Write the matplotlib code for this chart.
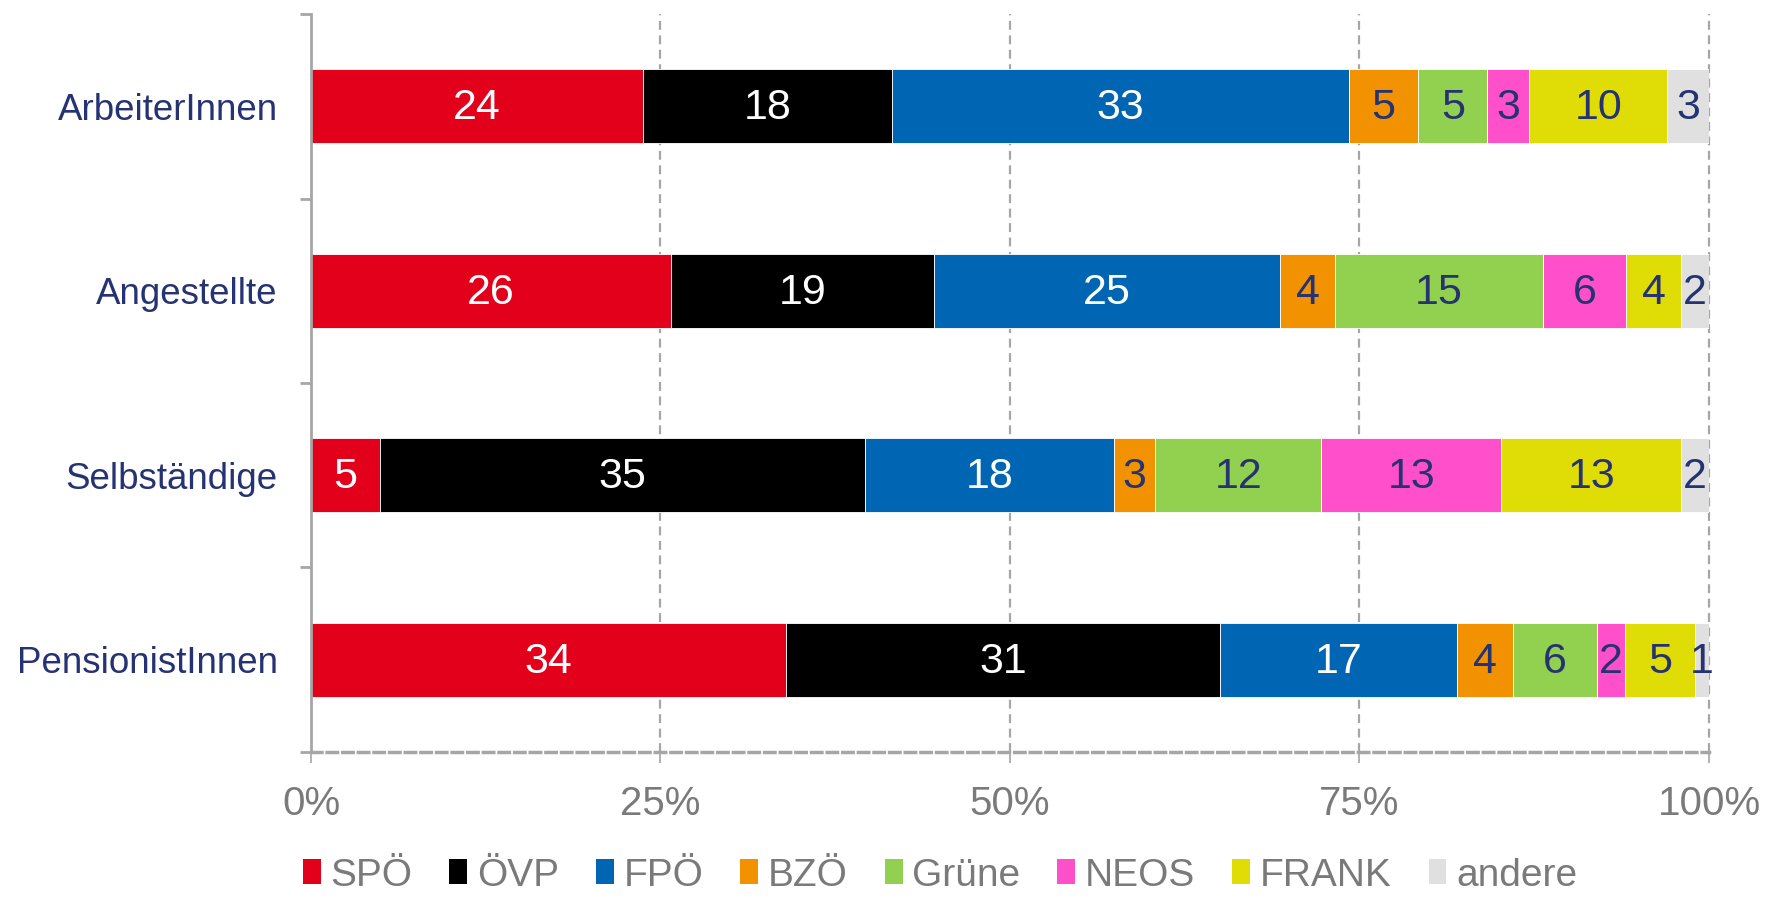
import matplotlib
matplotlib.use("Agg")
import matplotlib.pyplot as plt
from matplotlib.patches import Patch
import numpy as np

plt.rcParams['font.family'] = ['Liberation Sans', 'DejaVu Sans']

categories = ["ArbeiterInnen", "Angestellte", "Selbständige", "PensionistInnen"]
parties = ["SPÖ", "ÖVP", "FPÖ", "BZÖ", "Grüne", "NEOS", "FRANK", "andere"]
spoe   = [24, 26, 5, 34]
oevp   = [18, 19, 35, 31]
fpoe   = [33, 25, 18, 17]
bzoe   = [5, 4, 3, 4]
gruene = [5, 15, 12, 6]
neos   = [3, 6, 13, 2]
frank  = [10, 4, 13, 5]
andere = [3, 2, 2, 1]
series = [spoe, oevp, fpoe, bzoe, gruene, neos, frank, andere]
colors = ["#E2001A", "#000000", "#0066B3", "#F39200", "#92D050", "#FF4FCB", "#E0DC06", "#E0E0E0"]
label_colors = ["white", "white", "white", "#263372", "#263372", "#263372", "#263372", "#263372"]
xticks = [0, 0.25, 0.5, 0.75, 1.0]
xticklabels = ["0%", "25%", "50%", "75%", "100%"]

navy = "#263372"
gray = "#7A7A7A"
linegray = "#A6A6A6"

fig = plt.figure(figsize=(17.77, 8.98), dpi=100)
ax = fig.add_axes([0.175, 0.1626, 0.9617 - 0.175, 0.9844 - 0.1626])

data = np.array(series, dtype=float)
totals = data.sum(axis=0)
shares = data / totals
ypos = np.arange(len(categories))

left = np.zeros(len(categories))
for i, party in enumerate(parties):
    ax.barh(ypos, shares[i], left=left, height=0.4, color=colors[i],
            edgecolor="white", linewidth=0.6, zorder=2, label=party)
    for j in range(len(categories)):
        ax.text(left[j] + shares[i][j] / 2, ypos[j] + 0.01, f"{int(data[i][j])}",
                ha="center", va="center", fontsize=31, color=label_colors[i], zorder=3)
    left += shares[i]

ax.set_xlim(0, 1.0)
ax.set_ylim(len(categories) - 0.5, -0.5)

for x in [0.25, 0.5, 0.75, 1.0]:
    ax.axvline(x, color=linegray, linestyle=(0, (4, 2.5)), linewidth=1.6, zorder=0, clip_on=False)

ax.set_xticks(xticks)
ax.set_xticklabels(xticklabels, fontsize=29, color=gray)
ax.tick_params(axis='x', direction='out', length=8, width=1.2, color=linegray, pad=16)

ax.set_yticks(ypos)
ax.set_yticklabels(categories, fontsize=26.5, color=navy)
ax.tick_params(axis='y', which='major', length=0, pad=24)
ax.set_yticks(np.arange(-0.5, len(categories) + 0.5, 1), minor=True)
ax.tick_params(axis='y', which='minor', direction='out', length=8, width=2, color=linegray)

for s in ["top", "right"]:
    ax.spines[s].set_visible(False)
ax.spines["left"].set_color(linegray)
ax.spines["left"].set_linewidth(2)
ax.spines["bottom"].set_color(linegray)
ax.spines["bottom"].set_linewidth(2.5)
ax.spines["bottom"].set_linestyle((0, (3, 1.5)))

handles = [Patch(facecolor=c, edgecolor="none") for c in colors]
leg = fig.legend(handles, parties, loc="center", bbox_to_anchor=(0.529, 0.025),
                 ncol=len(parties), frameon=False, fontsize=28,
                 handlelength=0.46, handleheight=0.6, handletextpad=0.25,
                 columnspacing=0.95, borderaxespad=0, borderpad=0)
for t in leg.get_texts():
    t.set_color(gray)

fig.savefig("out.png", dpi=100)
